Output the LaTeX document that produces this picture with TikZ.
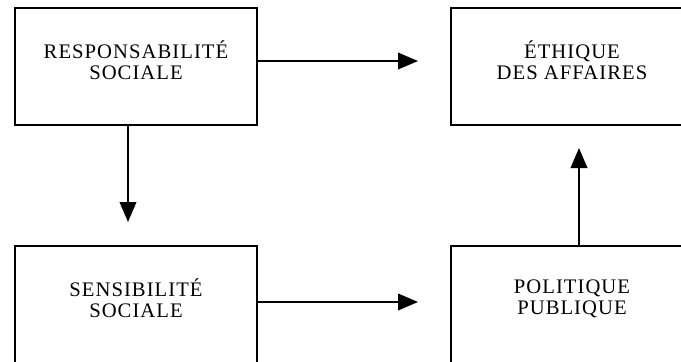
\documentclass[tikz,border=0pt]{standalone}
\usepackage{fontspec}
\setmainfont[LetterSpace=5]{Liberation Serif}
\usetikzlibrary{arrows.meta}

\begin{document}
\begin{tikzpicture}[x=0.75pt,y=-0.75pt,
		box/.style={draw,line width=1.3pt,minimum width=181.5pt,minimum height=87.75pt},
		txt/.style={label={[align=center,yshift=4.5pt,font=\fontsize{15.5}{16}\selectfont]center:#1}},
		arr/.style={line width=1.3pt,-{Triangle[length=15pt,width=12.5pt]}}]
		\useasboundingbox (0,0) rectangle (681,361);
		\clip (0,0) rectangle (681,361);

		\node[box,txt={RESPONSABILITÉ\\SOCIALE}] (resp) at (136,66.5) {};
		\node[box,txt={ÉTHIQUE\\DES AFFAIRES}] (ethique) at (572,66.5) {};
		\node[box,txt={SENSIBILITÉ\\SOCIALE}] (sensib) at (136,304.5) {};
		\node[box,txt={POLITIQUE\\PUBLIQUE}] (politique) at (572,304.5) {};

		\coordinate (tipa) at (418,61);
		\coordinate (tipb) at (128,222);
		\coordinate (tipc) at (418,302);
		\coordinate (tipd) at (579,148);

		\draw[arr] (resp.east |- tipa) -- (tipa);
		\draw[arr] (resp.south -| tipb) -- (tipb);
		\draw[arr] (sensib.east |- tipc) -- (tipc);
		\draw[arr] (politique.north -| tipd) -- (tipd);
	\end{tikzpicture}
\end{document}
